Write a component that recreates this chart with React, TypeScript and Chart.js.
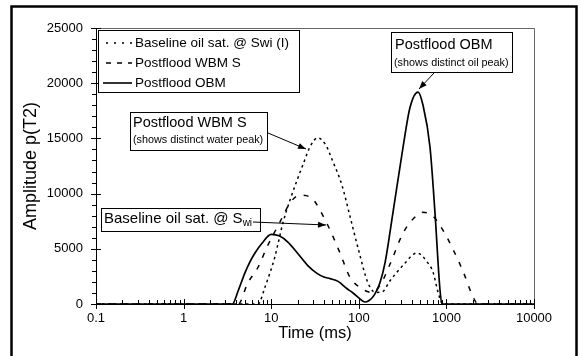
import React, { useEffect, useRef } from 'react';
import { Chart, registerables } from 'chart.js';

Chart.register(...registerables);

const FONT = '"Liberation Sans", Arial, Helvetica, sans-serif';

// Tick values
const xTickValues = [0.1, 1, 10, 100, 1000, 10000];
const yTickValues = [0, 5000, 10000, 15000, 20000, 25000];

// Baseline oil sat. @ Swi (long-dash curve, peak ~9800)
const baselineT = [0.1, 4.2, 5.4, 7.1, 9, 12.6, 16.4, 21, 29, 36, 47, 61, 79, 110, 140, 175, 227, 320, 416, 541, 703, 912, 1190, 1550, 2000, 2300, 10000];
const baselineAmp = [0, 0, 1900, 3350, 5200, 7430, 9150, 9850, 9600, 8500, 6700, 4620, 2450, 1350, 1050, 1700, 3600, 6430, 7700, 8300, 7950, 6700, 4950, 2950, 700, 0, 0];

// Postflood WBM S (short-dash curve, peak ~15000)
const wbmT = [0.1, 7.1, 8.5, 11, 13.6, 16.4, 19.7, 23, 28, 34, 42, 50, 64, 79, 100, 126, 155, 185, 227, 320, 461, 617, 703, 800, 870, 910, 10000];
const wbmAmp = [0, 0, 1540, 4260, 7340, 9420, 11200, 12600, 14300, 15050, 14400, 13000, 10800, 8000, 4800, 2000, 1050, 1100, 2100, 3500, 4620, 3700, 2900, 1100, 200, 0, 0];

// Postflood OBM (solid curve, peak ~19200)
const obmT = [0.1, 3.6, 4.2, 5, 5.7, 6.5, 7.85, 10, 12.5, 15.5, 20, 26, 33, 40, 47, 58, 73, 86, 100, 117, 130, 150, 174, 200, 245, 320, 384, 474, 541, 650, 741, 845, 890, 10000];
const obmAmp = [0, 0, 1200, 2800, 3800, 4600, 5500, 6300, 6150, 5600, 4600, 3500, 2800, 2450, 2300, 2050, 1400, 1000, 550, 180, 300, 800, 1900, 3800, 8240, 14200, 17800, 19200, 18000, 14200, 8240, 1270, 0, 0];

const legendLabels = ['Baseline oil sat. @ Swi (I)', 'Postflood WBM S', 'Postflood OBM'];

const toPoints = (xs: number[], ys: number[]) => xs.map((x, i) => ({ x, y: ys[i] }));

function drawArrow(ctx: CanvasRenderingContext2D, x1: number, y1: number, x2: number, y2: number) {
  ctx.beginPath();
  ctx.moveTo(x1, y1);
  ctx.lineTo(x2, y2);
  ctx.stroke();
  const a = Math.atan2(y2 - y1, x2 - x1);
  const len = 8;
  const w = 3;
  const bx = x2 - len * Math.cos(a);
  const by = y2 - len * Math.sin(a);
  ctx.beginPath();
  ctx.moveTo(x2, y2);
  ctx.lineTo(bx + w * Math.sin(a), by - w * Math.cos(a));
  ctx.lineTo(bx - w * Math.sin(a), by + w * Math.cos(a));
  ctx.closePath();
  ctx.fill();
}

const decorPlugin = {
  id: 'decor',
  afterDraw(chart: any) {
    const ctx: CanvasRenderingContext2D = chart.ctx;
    const { left, right, top, bottom } = chart.chartArea;
    const xs = chart.scales.x;
    const ys = chart.scales.y;
    ctx.save();
    ctx.setLineDash([]);

    // plot frame (top/right)
    ctx.strokeStyle = '#666';
    ctx.lineWidth = 1;
    ctx.beginPath();
    ctx.moveTo(left, top + 0.5);
    ctx.lineTo(right + 0.5, top + 0.5);
    ctx.lineTo(right + 0.5, bottom);
    ctx.stroke();

    // axes
    ctx.strokeStyle = '#000';
    ctx.beginPath();
    ctx.moveTo(left + 0.5, top);
    ctx.lineTo(left + 0.5, bottom + 0.5);
    ctx.lineTo(right + 0.5, bottom + 0.5);
    ctx.stroke();

    // y ticks
    ctx.beginPath();
    for (let v = 0; v <= 25000; v += 1000) {
      const py = Math.round(ys.getPixelForValue(v)) + 0.5;
      if (v % 5000 === 0) {
        ctx.moveTo(left - 5, py);
        ctx.lineTo(left + 5, py);
      } else {
        ctx.moveTo(left - 4, py);
        ctx.lineTo(left, py);
      }
    }
    // x ticks
    for (let d = -1; d <= 4; d++) {
      const base = Math.pow(10, d);
      const px = Math.round(xs.getPixelForValue(base)) + 0.5;
      ctx.moveTo(px, bottom - 5);
      ctx.lineTo(px, bottom + 5);
      if (d < 4) {
        for (let m = 2; m <= 9; m++) {
          const mx = Math.round(xs.getPixelForValue(base * m)) + 0.5;
          ctx.moveTo(mx, bottom - 4);
          ctx.lineTo(mx, bottom);
        }
      }
    }
    ctx.stroke();

    // legend box
    ctx.fillStyle = '#fff';
    ctx.fillRect(98, 30, 201, 62);
    ctx.strokeStyle = '#000';
    ctx.strokeRect(98.5, 30.5, 201, 62);
    const rows = [43, 63, 83];
    const dashes = [[2, 6], [5, 6], []];
    ctx.lineWidth = 1.6;
    rows.forEach((ry, i) => {
      ctx.setLineDash(dashes[i]);
      ctx.beginPath();
      ctx.moveTo(i === 2 ? 103 : 106, ry);
      ctx.lineTo(132, ry);
      ctx.stroke();
    });
    ctx.setLineDash([]);
    ctx.fillStyle = '#000';
    ctx.font = `13.5px ${FONT}`;
    ctx.textBaseline = 'middle';
    ctx.textAlign = 'left';
    rows.forEach((ry, i) => ctx.fillText(legendLabels[i], 135, ry));

    ctx.lineWidth = 1;
    // annotation: WBM
    ctx.fillStyle = '#fff';
    ctx.fillRect(130, 112, 137, 38);
    ctx.strokeRect(130.5, 112.5, 137, 38);
    ctx.fillStyle = '#000';
    ctx.font = `14.5px ${FONT}`;
    ctx.fillText('Postflood WBM S', 133, 123);
    ctx.font = `10.8px ${FONT}`;
    ctx.fillText('(shows distinct water peak)', 133, 140);
    drawArrow(ctx, 268, 133, 306, 149);

    // annotation: OBM
    ctx.fillStyle = '#fff';
    ctx.fillRect(391, 32, 121, 40);
    ctx.strokeRect(391.5, 32.5, 121, 40);
    ctx.fillStyle = '#000';
    ctx.font = `14.5px ${FONT}`;
    ctx.fillText('Postflood OBM', 395, 45);
    ctx.font = `10.8px ${FONT}`;
    ctx.fillText('(shows distinct oil peak)', 394, 63);
    drawArrow(ctx, 434, 73, 419, 89);

    // annotation: Baseline
    ctx.fillStyle = '#fff';
    ctx.fillRect(101, 208, 159, 23);
    ctx.strokeRect(101.5, 208.5, 159, 23);
    ctx.fillStyle = '#000';
    ctx.font = `15px ${FONT}`;
    const main = 'Baseline oil sat. @ S';
    ctx.fillText(main, 104, 219);
    const w = ctx.measureText(main).width;
    ctx.font = `10px ${FONT}`;
    ctx.fillText('wi', 104 + w, 223);
    drawArrow(ctx, 253, 222, 326, 225);

    // outer border
    ctx.lineWidth = 2.5;
    ctx.strokeRect(11.5, 6.5, 565, 360);
    ctx.restore();
  },
};

export default function App() {
  const ref = useRef<HTMLCanvasElement | null>(null);

  useEffect(() => {
    if (!ref.current) return;
    const chart = new Chart(ref.current, {
      type: 'line',
      data: {
        datasets: [
          {
            label: legendLabels[0],
            data: toPoints(baselineT, baselineAmp),
            borderColor: '#000',
            borderWidth: 1.5,
            borderDash: [5, 8],
            pointRadius: 0,
            cubicInterpolationMode: 'monotone',
            fill: false,
            clip: 4,
          },
          {
            label: legendLabels[1],
            data: toPoints(wbmT, wbmAmp),
            borderColor: '#000',
            borderWidth: 1.5,
            borderDash: [2.5, 3.5],
            pointRadius: 0,
            cubicInterpolationMode: 'monotone',
            fill: false,
            clip: 4,
          },
          {
            label: legendLabels[2],
            data: toPoints(obmT, obmAmp),
            borderColor: '#000',
            borderWidth: 1.7,
            pointRadius: 0,
            cubicInterpolationMode: 'monotone',
            fill: false,
            clip: 4,
          },
        ],
      },
      options: {
        responsive: false,
        animation: false,
        layout: { padding: { left: 0, top: 28, right: 47, bottom: 0 } },
        plugins: { legend: { display: false }, tooltip: { enabled: false } },
        scales: {
          x: {
            type: 'logarithmic',
            min: 0.1,
            max: 10000,
            grid: { display: false, drawTicks: false },
            border: { display: false },
            afterBuildTicks: (s: any) => {
              s.ticks = xTickValues.map((v) => ({ value: v }));
            },
            afterFit: (s: any) => {
              s.height = 52;
            },
            ticks: {
              color: '#000',
              font: { family: FONT, size: 13 },
              padding: 7,
              autoSkip: false,
              maxRotation: 0,
              callback: (v: any) => String(v),
            },
            title: {
              display: true,
              text: 'Time (ms)',
              color: '#000',
              font: { family: FONT, size: 16.5 },
              padding: { top: 0, bottom: 13 },
            },
          },
          y: {
            type: 'linear',
            min: 0,
            max: 25000,
            grid: { display: false, drawTicks: false },
            border: { display: false },
            afterBuildTicks: (s: any) => {
              s.ticks = yTickValues.map((v) => ({ value: v }));
            },
            afterFit: (s: any) => {
              s.width = 96;
            },
            ticks: {
              color: '#000',
              font: { family: FONT, size: 13 },
              padding: 13,
              callback: (v: any) => String(v),
            },
            title: {
              display: true,
              text: 'Amplitude p(T2)',
              color: '#000',
              font: { family: FONT, size: 18 },
              padding: { top: 20, bottom: 0 },
            },
          },
        },
      } as any,
      plugins: [decorPlugin],
    });
    return () => chart.destroy();
  }, []);

  return (
    <div style={{ position: 'fixed', left: 0, top: 0, width: 581, height: 356, background: '#fff' }}>
      <canvas ref={ref} width={581} height={356} style={{ display: 'block' }} />
    </div>
  );
}
